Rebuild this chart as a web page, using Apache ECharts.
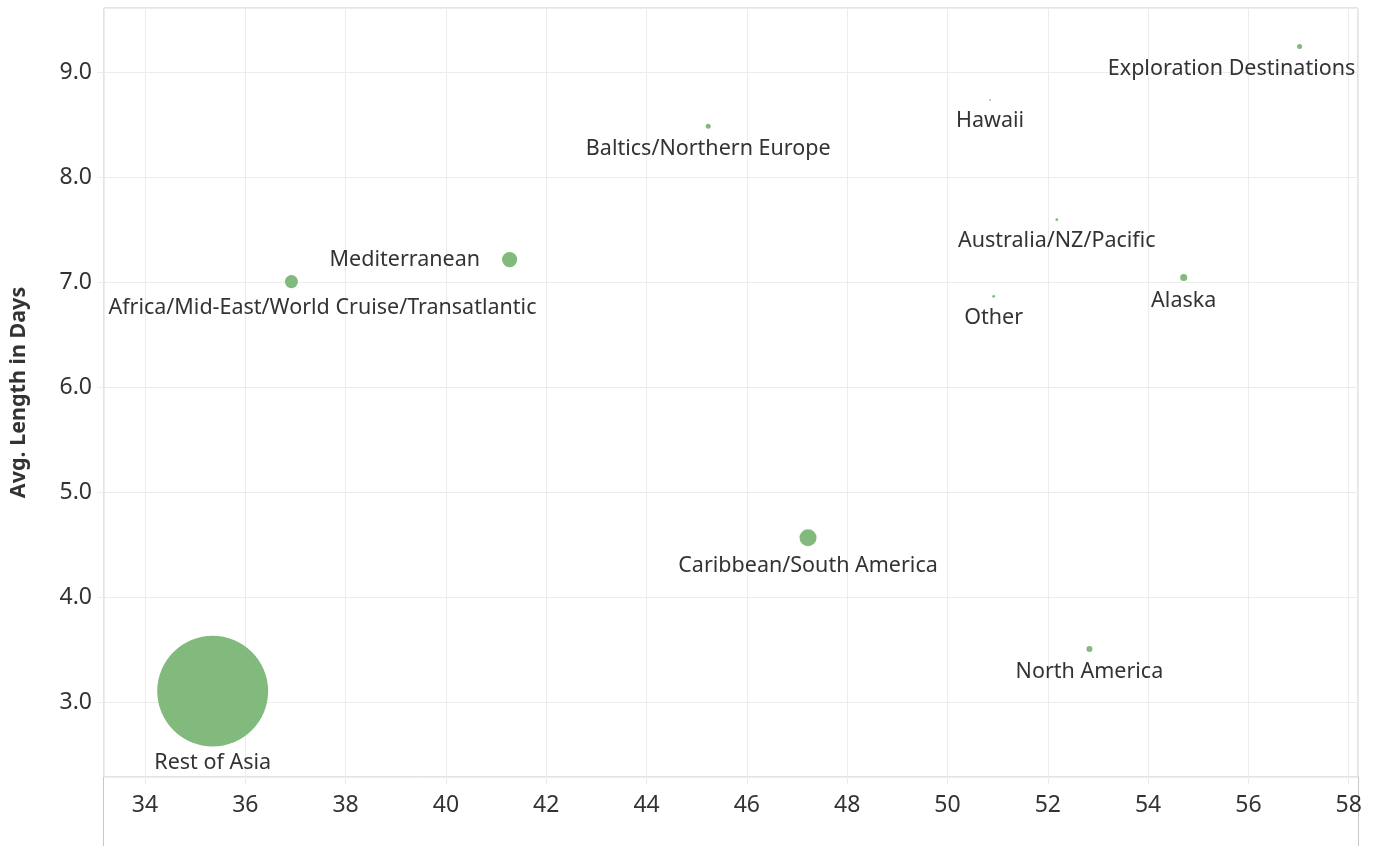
<!DOCTYPE html>
<html>
    <head>
        <meta charset="utf-8">
        <title>cruise regions</title>
        <style>
            html, body { margin: 0; padding: 0; width: 100%; height: 100%; background: #fff; }
            #main { width: 1375px; height: 846px; }
        </style>
    </head>
    <body>
        <div id="main"></div>
        <script src="https://cdn.jsdelivr.net/npm/echarts@6/dist/echarts.min.js"></script>
        <script type="text/javascript">
        // regions, avg price (x), avg length in days (y), bubble size measure
        var regions = ['Rest of Asia', 'Africa/Mid-East/World Cruise/Transatlantic', 'Mediterranean',
            'Baltics/Northern Europe', 'Caribbean/South America', 'Hawaii', 'Other',
            'Australia/NZ/Pacific', 'North America', 'Alaska', 'Exploration Destinations'];
        var xValues = [35.35, 36.92, 41.27, 45.23, 47.22, 50.85, 50.92, 52.18, 52.83, 54.71, 57.02];
        var yValues = [3.11, 7.01, 7.22, 8.49, 4.57, 8.74, 6.87, 7.60, 3.51, 7.05, 9.25];
        var sizes = [12300, 170, 230, 25, 290, 3, 8, 8, 36, 50, 25];

        // label tweaks for a few marks so they stay inside the pane
        var labelTweaks = {
            'Rest of Asia': { distance: 5 },
            'Africa/Mid-East/World Cruise/Transatlantic': { offset: [31, 0] },
            'Mediterranean': { position: 'left', distance: 22 },
            'Exploration Destinations': { offset: [-68, 0] }
        };

        var points = [];
        for (var i = 0; i < regions.length; i++) {
            var item = {
                name: regions[i],
                value: [xValues[i], yValues[i], sizes[i]]
            };
            if (labelTweaks[regions[i]]) {
                item.label = labelTweaks[regions[i]];
            }
            points.push(item);
        }

        var textColor = '#333333';
        var gridColor = '#ececec';
        var borderColor = '#c8c8c8';

        var myChart = echarts.init(document.getElementById('main'));
        var option = {
            backgroundColor: '#ffffff',
            animation: false,
            textStyle: { fontFamily: 'Noto Sans' },
            grid: {
                left: 103,
                right: 17,
                top: 8,
                bottom: 69,
                show: true,
                borderColor: borderColor,
                borderWidth: 1
            },
            graphic: [{
                type: 'line',
                shape: { x1: 103.5, y1: 777, x2: 103.5, y2: 846 },
                style: { stroke: borderColor, lineWidth: 1 }
            }, {
                type: 'line',
                shape: { x1: 1358.5, y1: 777, x2: 1358.5, y2: 846 },
                style: { stroke: borderColor, lineWidth: 1 }
            }],
            xAxis: {
                type: 'value',
                min: 33.183,
                max: 58.185,
                splitNumber: 12,
                axisLine: { show: false },
                axisTick: { show: true, length: 7, lineStyle: { color: gridColor } },
                splitLine: { show: true, lineStyle: { color: gridColor } },
                axisLabel: {
                    showMinLabel: false,
                    showMaxLabel: false,
                    margin: 17,
                    fontSize: 23,
                    color: textColor
                }
            },
            yAxis: {
                type: 'value',
                min: 2.292,
                max: 9.616,
                splitNumber: 7,
                name: 'Avg. Length in Days',
                nameLocation: 'middle',
                nameRotate: 90,
                nameGap: 74,
                nameTextStyle: { fontSize: 21.5, fontWeight: 'bold', color: textColor },
                axisLine: { show: false },
                axisTick: { show: true, length: 7, lineStyle: { color: gridColor } },
                splitLine: { show: true, lineStyle: { color: gridColor } },
                axisLabel: {
                    showMinLabel: false,
                    showMaxLabel: false,
                    margin: 12,
                    fontSize: 23,
                    color: textColor,
                    formatter: function (v) { return v.toFixed(1); }
                }
            },
            series: [{
                type: 'scatter',
                data: points,
                symbolSize: function (val) {
                    return Math.sqrt(val[2]);
                },
                itemStyle: { color: '#82b97c', opacity: 1 },
                emphasis: { disabled: true },
                label: {
                    show: true,
                    position: 'bottom',
                    distance: 9,
                    formatter: '{b}',
                    fontSize: 21.5,
                    color: textColor
                }
            }]
        };
        myChart.setOption(option);
        </script>
    </body>
</html>
